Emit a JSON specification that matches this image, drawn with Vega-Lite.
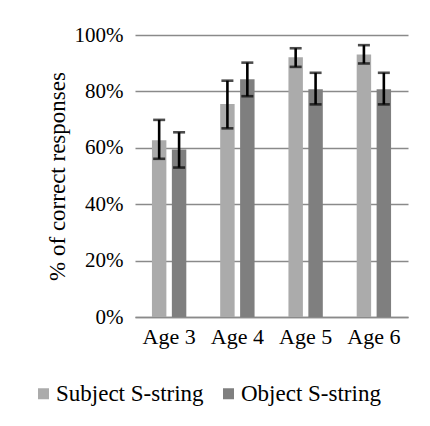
{
  "$schema": "https://vega.github.io/schema/vega-lite/v6.json",
  "width": 273,
  "height": 282,
  "autosize": "none",
  "padding": {"left": 135, "top": 35, "right": 22, "bottom": 109},
  "background": "white",
  "config": {
    "view": {"stroke": null},
    "font": "Liberation Serif",
    "axis": {"labelFont": "Liberation Serif", "titleFont": "Liberation Serif", "labelColor": "black", "titleColor": "black"},
    "legend": {"labelFont": "Liberation Serif"}
  },
  "data": {
    "values": [
      {"age": "Age 3", "cond": "Subject S-string", "value": 0.627, "lo": 0.561, "hi": 0.699},
      {"age": "Age 3", "cond": "Object S-string", "value": 0.594, "lo": 0.530, "hi": 0.655},
      {"age": "Age 4", "cond": "Subject S-string", "value": 0.755, "lo": 0.669, "hi": 0.838},
      {"age": "Age 4", "cond": "Object S-string", "value": 0.843, "lo": 0.783, "hi": 0.902},
      {"age": "Age 5", "cond": "Subject S-string", "value": 0.921, "lo": 0.887, "hi": 0.953},
      {"age": "Age 5", "cond": "Object S-string", "value": 0.808, "lo": 0.754, "hi": 0.866},
      {"age": "Age 6", "cond": "Subject S-string", "value": 0.931, "lo": 0.899, "hi": 0.964},
      {"age": "Age 6", "cond": "Object S-string", "value": 0.808, "lo": 0.754, "hi": 0.866}
    ]
  },
  "encoding": {
    "x": {
      "field": "age", "type": "nominal", "sort": null,
      "scale": {"paddingInner": 0, "paddingOuter": 0},
      "axis": {"title": null, "labelAngle": 0, "labelFontSize": 22, "labelPadding": 9, "ticks": false, "domain": true, "domainColor": "#8a8a8a", "domainWidth": 1.5, "grid": false}
    },
    "xOffset": {
      "field": "cond", "type": "nominal", "sort": ["Subject S-string", "Object S-string"],
      "scale": {"paddingInner": 0.275, "paddingOuter": 0.85}
    }
  },
  "layer": [
    {
      "mark": {"type": "bar"},
      "encoding": {
        "y": {
          "field": "value", "type": "quantitative",
          "scale": {"domain": [0, 1]},
          "axis": {"title": "% of correct responses", "titleFontSize": 23, "titleFontWeight": "normal", "titlePadding": 5, "format": ".0%", "values": [0, 0.2, 0.4, 0.6, 0.8, 1], "labelFontSize": 21, "labelPadding": 12, "ticks": false, "domain": false, "grid": true, "gridColor": "#8a8a8a", "gridWidth": 1.5}
        },
        "color": {
          "field": "cond", "type": "nominal",
          "sort": ["Subject S-string", "Object S-string"],
          "scale": {"domain": ["Subject S-string", "Object S-string"], "range": ["#ababab", "#7f7f7f"]},
          "legend": {"title": null, "orient": "none", "legendX": -103, "legendY": 347, "direction": "horizontal", "symbolType": "square", "symbolSize": 121, "symbolStrokeWidth": 0, "labelFontSize": 23, "labelOffset": 1, "columnPadding": 13, "labelColor": "black"}
        }
      }
    },
    {
      "mark": {"type": "rule", "color": "black", "strokeWidth": 2.6},
      "encoding": {
        "y": {"field": "lo", "type": "quantitative"},
        "y2": {"field": "hi"}
      }
    },
    {
      "mark": {"type": "tick", "color": "black", "orient": "horizontal", "size": 12, "thickness": 2.6},
      "encoding": {"y": {"field": "lo", "type": "quantitative"}}
    },
    {
      "mark": {"type": "tick", "color": "black", "orient": "horizontal", "size": 12, "thickness": 2.6},
      "encoding": {"y": {"field": "hi", "type": "quantitative"}}
    }
  ]
}
